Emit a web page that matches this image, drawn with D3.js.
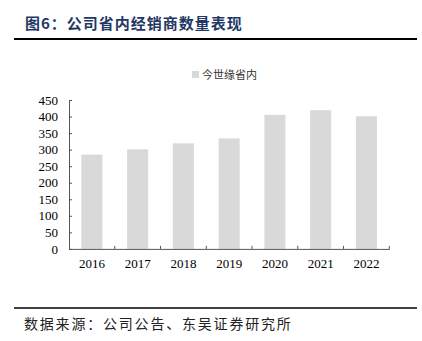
<!DOCTYPE html>
<html><head><meta charset="utf-8">
<script src="https://cdn.jsdelivr.net/npm/d3@7"></script>
<style>body{margin:0;background:#fff}svg{display:block}</style>
</head><body>
<script>
const categories = ["2016","2017","2018","2019","2020","2021","2022"];
const values = [285, 301, 319, 334, 405, 419, 401];
const yTicks = [0,50,100,150,200,250,300,350,400,450];
const seriesName = "今世缘省内";
const titleText = "图6：公司省内经销商数量表现";
const sourceText = "数据来源：公司公告、东吴证券研究所";

(function(){
const W = 422, H = 341;
const svg = d3.select("body").append("svg").attr("width", W).attr("height", H);
const mL = 69, mR = 389.3, mT = 100, mB = 248.9;

const x = d3.scaleBand().domain(categories).range([mL, mR]).paddingInner(0.54).paddingOuter(0.27);
const xb = d3.scaleBand().domain(categories).range([mL, mR]);
const y = d3.scaleLinear().domain([0, 450]).range([mB, mT]);

// title
svg.append("text").attr("x", 25).attr("y", 29).attr("fill", "#1f3864")
  .attr("font-family", "Noto Sans CJK SC").attr("font-weight", "bold").attr("font-size", 15)
  .attr("letter-spacing", 1).text(titleText);
svg.append("line").attr("x1", 14).attr("x2", 417).attr("y1", 39).attr("y2", 39)
  .attr("stroke", "#000").attr("stroke-width", 2);

// bars
svg.append("g").selectAll("rect").data(values).join("rect")
  .attr("x", (d,i) => x(categories[i])).attr("width", x.bandwidth())
  .attr("y", d => y(d)).attr("height", d => y(0) - y(d))
  .attr("fill", "#d9d9d9");

// y axis
const ya = svg.append("g").attr("transform", `translate(${mL},0)`)
  .call(d3.axisLeft(y).tickValues(yTicks).tickSizeInner(-3).tickSizeOuter(0).tickPadding(11));
ya.select(".domain").attr("stroke", "#555");
ya.selectAll(".tick line").attr("stroke", "#555");
ya.selectAll("text").attr("font-family", "Liberation Serif").attr("font-size", 13).attr("fill", "#000");

// x axis
const xa = svg.append("g").attr("transform", `translate(0,${mB})`)
  .call(d3.axisBottom(xb).tickSize(0).tickPadding(10));
xa.select(".domain").attr("stroke", "#555");
xa.selectAll("text").attr("font-family", "Liberation Serif").attr("font-size", 13).attr("fill", "#000");
// boundary ticks
svg.append("g").selectAll("line").data(categories).join("line")
  .attr("x1", d => xb(d) + xb.bandwidth()).attr("x2", d => xb(d) + xb.bandwidth())
  .attr("y1", mB).attr("y2", mB - 3).attr("stroke", "#555");

// legend
svg.append("rect").attr("x", 192).attr("y", 71).attr("width", 7).attr("height", 7).attr("fill", "#d9d9d9");
svg.append("text").attr("x", 202).attr("y", 78.5).attr("font-family", "Noto Sans CJK SC")
  .attr("font-size", 11).attr("fill", "#333").text(seriesName);

// footer
svg.append("line").attr("x1", 14).attr("x2", 417).attr("y1", 308).attr("y2", 308)
  .attr("stroke", "#000").attr("stroke-width", 1.5);
svg.append("text").attr("x", 24).attr("y", 329).attr("font-family", "Noto Sans CJK SC")
  .attr("font-size", 14).attr("letter-spacing", 1.8).attr("fill", "#222").text(sourceText);
})();
</script>
</body></html>
